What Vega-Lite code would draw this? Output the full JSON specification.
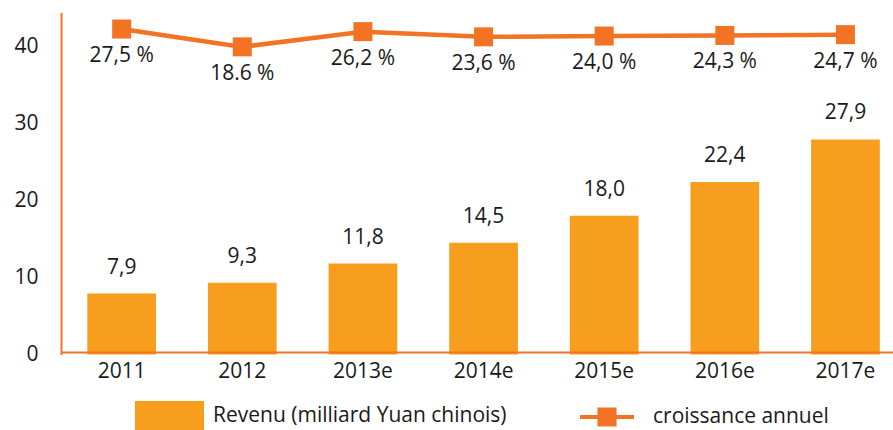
{
  "$schema": "https://vega.github.io/schema/vega-lite/v6.json",
  "width": 832,
  "height": 342,
  "autosize": {"type": "none"},
  "padding": {"left": 61, "top": 12.5, "right": 0, "bottom": 75.5},
  "background": "white",
  "config": {"font": "Open Sans", "view": {"stroke": null}},
  "data": {
    "values": [
      {"year": "2011", "revenue": 7.9, "rev_label": "7,9", "growth": 27.5, "growth_label": "27,5 %"},
      {"year": "2012", "revenue": 9.3, "rev_label": "9,3", "growth": 18.6, "growth_label": "18.6 %"},
      {"year": "2013e", "revenue": 11.8, "rev_label": "11,8", "growth": 26.2, "growth_label": "26,2 %"},
      {"year": "2014e", "revenue": 14.5, "rev_label": "14,5", "growth": 23.6, "growth_label": "23,6 %"},
      {"year": "2015e", "revenue": 18.0, "rev_label": "18,0", "growth": 24.0, "growth_label": "24,0 %"},
      {"year": "2016e", "revenue": 22.4, "rev_label": "22,4", "growth": 24.3, "growth_label": "24,3 %"},
      {"year": "2017e", "revenue": 27.9, "rev_label": "27,9", "growth": 24.7, "growth_label": "24,7 %"}
    ]
  },
  "encoding": {
    "x": {
      "field": "year",
      "type": "ordinal",
      "sort": null,
      "scale": {"paddingInner": 0.4305, "paddingOuter": 0.1638, "align": 0.666},
      "axis": {
        "title": null,
        "labelAngle": 0,
        "labelFontSize": 21,
        "labelColor": "#1a1a1a",
        "ticks": false,
        "tickSize": 0,
        "labelPadding": 8.5,
        "domainColor": "#F37324",
        "domainWidth": 2,
        "offset": -2.5,
        "grid": false,
        "zindex": 1
      }
    }
  },
  "layer": [
    {
      "layer": [
        {
          "mark": {"type": "bar", "color": "#F89E1F"},
          "encoding": {
            "y": {
              "field": "revenue",
              "type": "quantitative",
              "scale": {"domain": [0, 44.38], "nice": false, "zero": true},
              "axis": {
                "title": null,
                "values": [0, 10, 20, 30, 40],
                "ticks": false,
                "tickSize": 0,
                "labelPadding": 23,
                "labelFontSize": 21,
                "labelColor": "#1a1a1a",
                "domainColor": "#F37324",
                "domainWidth": 2,
                "grid": false,
                "zindex": 1
              }
            },
            "fill": {
              "datum": "Revenu (milliard Yuan chinois)",
              "scale": {"range": ["#F89E1F"]},
              "legend": {
                "orient": "none",
                "legendX": 74,
                "legendY": 368.5,
                "title": null,
                "symbolType": "M-1,-0.42H1V0.42H-1Z",
                "symbolSize": 4761,
                "symbolStrokeWidth": 0,
                "symbolFillColor": "#F89E1F",
                "labelFontSize": 21,
                "labelColor": "#1a1a1a",
                "labelOffset": 9,
                "labelLimit": 600,
                "padding": 0
              }
            }
          }
        },
        {
          "mark": {"type": "text", "dy": -20, "baseline": "alphabetic", "fontSize": 21, "color": "#1a1a1a"},
          "encoding": {
            "y": {"field": "revenue", "type": "quantitative"},
            "text": {"field": "rev_label"}
          }
        }
      ]
    },
    {
      "layer": [
        {
          "mark": {"type": "line", "strokeWidth": 4.5},
          "encoding": {
            "y": {
              "field": "growth",
              "type": "quantitative",
              "scale": {"domain": [-135.02, 35.76], "nice": false, "zero": false},
              "axis": null
            },
            "stroke": {
              "datum": "croissance annuel",
              "scale": {"range": ["#F37324"]},
              "legend": {
                "orient": "none",
                "legendX": 517,
                "legendY": 375.5,
                "title": null,
                "symbolType": "M-1,0H1M-0.28,-0.28H0.28V0.28H-0.28Z",
                "symbolSize": 2916,
                "symbolStrokeWidth": 4,
                "symbolStrokeColor": "#F37324",
                "symbolFillColor": "#F37324",
                "labelFontSize": 21,
                "labelColor": "#1a1a1a",
                "labelOffset": 17,
                "labelLimit": 600,
                "padding": 0,
                "symbolOpacity": 1,
                "encode": {"symbols": {"update": {"fill": {"value": "#F37324"}, "stroke": {"value": "#F37324"}, "opacity": {"value": 1}, "size": {"value": 2916}}}}
              }
            }
          }
        },
        {
          "mark": {"type": "point", "shape": "square", "size": 361, "filled": true, "color": "#F37324", "opacity": 1},
          "encoding": {
            "y": {"field": "growth", "type": "quantitative", "scale": {"domain": [-135.02, 35.76], "nice": false, "zero": false}, "axis": null}
          }
        },
        {
          "mark": {"type": "text", "dy": 33, "baseline": "alphabetic", "fontSize": 21, "color": "#1a1a1a"},
          "encoding": {
            "y": {"field": "growth", "type": "quantitative", "scale": {"domain": [-135.02, 35.76], "nice": false, "zero": false}, "axis": null},
            "text": {"field": "growth_label"}
          }
        }
      ]
    }
  ],
  "resolve": {"scale": {"y": "independent"}}
}
